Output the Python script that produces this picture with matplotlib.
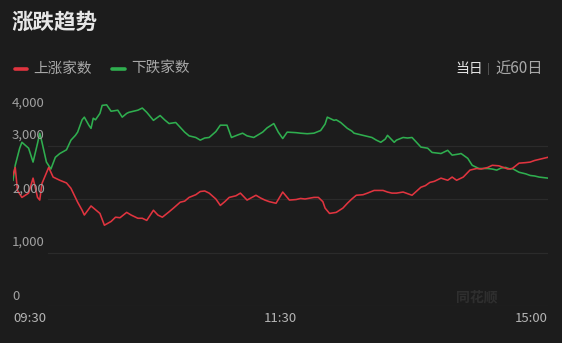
import matplotlib
matplotlib.use("Agg")
import matplotlib.pyplot as plt
import matplotlib.transforms as mtransforms

plt.rcParams['font.family'] = ['Noto Sans CJK SC', 'DejaVu Sans']

# ---- data (trading-minute index 0..240, values = number of stocks) ----
title = "涨跌趋势"
series_names = ["上涨家数", "下跌家数"]
x_tick_pos = [0, 120, 240]
x_tick_labels = ["09:30", "11:30", "15:00"]
y_ticks = [0, 1000, 2000, 3000, 4000]
y_tick_labels = ["0", "1,000", "2,000", "3,000", "4,000"]

up_t = [0, 1, 2, 4, 7, 9, 11, 12, 13, 16, 18, 21, 24, 26, 29, 31, 32, 35, 37, 39,
        41, 44, 46, 48, 51, 53, 56, 58, 60, 63, 65, 67, 70, 72, 75, 77, 79, 82, 84, 86,
        88, 91, 93, 95, 97, 100, 102, 105, 109, 111, 113, 115, 118, 121, 124, 127, 129, 131, 135, 137,
        139, 140, 142, 145, 148, 150, 152, 154, 157, 159, 162, 166, 168, 170, 172, 175, 177, 179, 183, 185,
        187, 189, 192, 195, 197, 199, 202, 205, 208, 210, 213, 215, 218, 220, 222, 224, 227, 230, 232, 234,
        236, 240]
up_v = [2450, 2590, 2160, 2030, 2110, 2390, 2030, 1980, 2290, 2590, 2410, 2350, 2300, 2200, 1940, 1790, 1700, 1870, 1800, 1730,
        1510, 1580, 1660, 1650, 1750, 1700, 1640, 1640, 1600, 1790, 1700, 1660, 1760, 1830, 1940, 1960, 2030, 2080, 2140, 2150,
        2110, 2000, 1880, 1950, 2030, 2060, 2110, 1980, 2070, 2020, 1980, 1950, 1920, 2130, 1980, 1990, 2010, 2000, 2030, 2030,
        1950, 1830, 1730, 1750, 1830, 1920, 2000, 2070, 2080, 2110, 2160, 2160, 2130, 2110, 2110, 2130, 2100, 2070, 2220, 2250,
        2310, 2330, 2390, 2350, 2410, 2350, 2410, 2540, 2570, 2560, 2590, 2630, 2620, 2590, 2560, 2570, 2670, 2680, 2690, 2720,
        2740, 2780]

down_t = [0, 1, 3, 4, 7, 9, 11, 12, 13, 15, 17, 19, 21, 24, 26, 28, 29, 31, 32, 34,
          35, 36, 37, 39, 40, 42, 44, 47, 49, 51, 52, 56, 58, 60, 63, 66, 68, 70, 73, 75,
          77, 79, 82, 84, 86, 88, 91, 93, 96, 98, 101, 103, 105, 108, 110, 112, 114, 117, 119, 121,
          123, 127, 129, 132, 135, 138, 140, 141, 144, 145, 147, 150, 152, 153, 157, 159, 161, 163, 165, 167,
          168, 171, 172, 175, 177, 179, 183, 186, 188, 192, 195, 197, 200, 201, 204, 206, 209, 213, 215, 217,
          219, 221, 223, 224, 227, 230, 232, 234, 236, 240]
down_v = [2350, 2630, 2950, 3060, 2950, 2690, 3040, 3230, 3060, 2690, 2560, 2780, 2850, 2920, 3100, 3190, 3250, 3480, 3530, 3380,
          3320, 3510, 3480, 3600, 3750, 3760, 3640, 3660, 3530, 3600, 3620, 3660, 3700, 3620, 3470, 3560, 3480, 3410, 3430, 3340,
          3250, 3180, 3150, 3100, 3140, 3150, 3260, 3380, 3380, 3150, 3200, 3230, 3180, 3150, 3200, 3250, 3330, 3410, 3250, 3130,
          3250, 3240, 3230, 3220, 3230, 3280, 3400, 3530, 3470, 3480, 3430, 3320, 3270, 3230, 3190, 3170, 3150, 3100, 3060, 3120,
          3190, 3060, 3100, 3150, 3140, 3150, 2970, 2950, 2870, 2850, 2910, 2820, 2840, 2850, 2760, 2630, 2570, 2570, 2560, 2540,
          2580, 2590, 2560, 2570, 2500, 2470, 2440, 2430, 2410, 2390]

# ---- styling ----
BG = "#1c1c1c"
RED = "#e0343f"
GREEN = "#2fae4f"
LABEL = "#a0a0a0"
GRID = "#2b2b2b"

W, H = 562, 343
fig = plt.figure(figsize=(W / 100, H / 100), dpi=100, facecolor=BG)

# axes placement in pixels
ax_left, ax_right = 13, 548
ax_bottom_px, ax_top_px = 306, 92
ax = fig.add_axes([ax_left / W, (H - ax_bottom_px) / H,
                   (ax_right - ax_left) / W, (ax_bottom_px - ax_top_px) / H])
ax.set_facecolor(BG)
ax.set_xlim(0, 240)
ax.set_ylim(0, 4000)
for s in ax.spines.values():
    s.set_visible(False)
ax.set_xticks([])
ax.set_yticks([])

# gridlines (start after the label column)
gx0 = (48 - ax_left) / (ax_right - ax_left)
for v in y_ticks[:-1]:
    ax.axhline(v, xmin=gx0, xmax=1.0, color=GRID, lw=0.9, zorder=0)

# lines
ax.plot(down_t, down_v, color=GREEN, lw=1.15, zorder=3, solid_joinstyle='round')
ax.plot(up_t, up_v, color=RED, lw=1.15, zorder=3, solid_joinstyle='round')

# y labels (drawn above their gridlines, left aligned)
lab_trans = mtransforms.blended_transform_factory(fig.transFigure, ax.transData)
for v, lab in zip(y_ticks, y_tick_labels):
    if v == y_ticks[-1]:
        t = ax.text(12 / W, v, lab, ha='left', va='top', color=LABEL, fontsize=9.5)
        t.set_transform(lab_trans + mtransforms.ScaledTranslation(0, -3 / 72, fig.dpi_scale_trans))
    else:
        t = ax.text(12 / W, v, lab, ha='left', va='bottom', color=LABEL, fontsize=9.5)
        t.set_transform(lab_trans + mtransforms.ScaledTranslation(0, 2.5 / 72, fig.dpi_scale_trans))

# x labels
xl_trans = mtransforms.blended_transform_factory(ax.transData, fig.transFigure)
ha_list = ['left', 'center', 'right']
for p, lab, ha in zip(x_tick_pos, x_tick_labels, ha_list):
    ax.text(p, (H - 318) / H, lab, transform=xl_trans, ha=ha, va='center',
            color="#b4b4b4", fontsize=9.5)

# title
fig.text(12 / W, (H - 22) / H, title, ha='left', va='center',
         color="#e6e6e6", fontsize=15.5, fontweight='bold')

# legend (manual)
ly = (H - 69) / H
for x0, x1, tx, c, name in [(15, 27, 33, RED, series_names[0]),
                            (112, 125, 131, GREEN, series_names[1])]:
    fig.add_artist(plt.Line2D([x0 / W, x1 / W], [ly, ly], color=c, lw=2.6,
                              solid_capstyle='round', transform=fig.transFigure))
    fig.text(tx / W, ly, name, ha='left', va='center', color="#a8a8a8", fontsize=10.5)

# right toggle text
fig.text(455 / W, ly, "当日", ha='left', va='center', color="#e2e2e2", fontsize=10)
fig.text(488 / W, ly, "|", ha='center', va='center', color="#6e6e6e", fontsize=7.5)
fig.text(495 / W, ly, "近60日", ha='left', va='center', color="#a8a8a8", fontsize=11)

# faint watermark
fig.text(477 / W, (H - 297) / H, "同花顺", ha='center', va='center',
         color="#2f2f2f", fontsize=10, fontweight='bold', style='italic')

fig.savefig("out.png", dpi=100, facecolor=BG)
